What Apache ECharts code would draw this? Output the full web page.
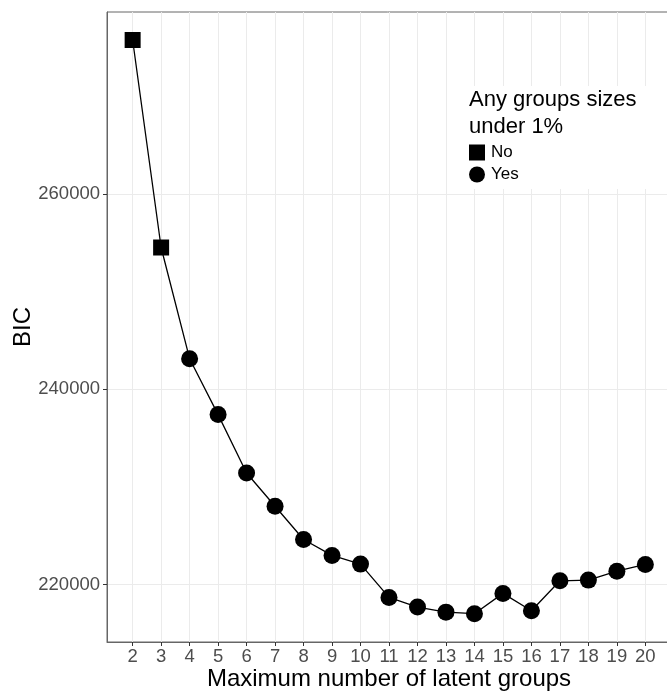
<!DOCTYPE html>
<html lang="en">
<head>
    <meta charset="UTF-8">
    <title>BIC by number of latent groups</title>
    <script src="https://cdn.jsdelivr.net/npm/echarts@6/dist/echarts.min.js"></script>
    <style>
        html, body {
            margin: 0;
            padding: 0;
            background: #fff;
        }

        #main {
            width: 667px;
            height: 691px;
        }
    </style>
</head>
<body>
<div id="main"></div>

<script type="text/javascript">
    // max number of latent groups
    const groups = [2, 3, 4, 5, 6, 7, 8, 9, 10, 11, 12, 13, 14, 15, 16, 17, 18, 19, 20];
    // BIC
    const bic = [275780, 254520, 243130, 237400, 231420, 228010, 224600, 222970, 222080, 218670,
        217680, 217160, 217000, 219080, 217300, 220370, 220440, 221360, 222050];
    // any group sizes under 1%
    const under1 = ['No', 'No', 'Yes', 'Yes', 'Yes', 'Yes', 'Yes', 'Yes', 'Yes', 'Yes',
        'Yes', 'Yes', 'Yes', 'Yes', 'Yes', 'Yes', 'Yes', 'Yes', 'Yes'];
    const yTicks = [220000, 240000, 260000];

    const tickColor = '#4d4d4d';
    const fontFamily = '"Liberation Sans", Arial, Helvetica, sans-serif';

    function pointsFor(flag) {
        let out = [];
        for (let i = 0; i < groups.length; i++) {
            if (under1[i] === flag) out.push([groups[i], bic[i]]);
        }
        return out;
    }

    let chart = echarts.init(document.getElementById('main'));
    let option = {
        animation: false,
        backgroundColor: '#fff',
        textStyle: {fontFamily: fontFamily},
        grid: {
            left: 107,
            right: -4,
            top: 12,
            bottom: 49,
            show: true,
            borderColor: '#666',
            borderWidth: 1,
            outerBoundsMode: 'none'
        },
        title: {
            text: 'Any groups sizes\nunder 1%',
            left: 469,
            top: 86,
            padding: 0,
            z: 10,
            textStyle: {
                fontFamily: fontFamily,
                fontSize: 22,
                fontWeight: 'normal',
                lineHeight: 27,
                color: '#000'
            }
        },
        legend: {
            data: ['No', 'Yes'],
            orient: 'vertical',
            left: 469,
            top: 144,
            padding: 0,
            itemWidth: 16,
            itemHeight: 16,
            itemGap: 5,
            z: 10,
            itemStyle: {opacity: 1},
            textStyle: {fontFamily: fontFamily, fontSize: 17, color: '#000', padding: [0, 0, 0, 1]}
        },
        graphic: [{
            type: 'rect',
            z: 1,
            shape: {x: 457, y: 86, width: 215, height: 103},
            style: {fill: '#fff'}
        }],
        xAxis: {
            type: 'value',
            min: 1.1,
            max: 20.9,
            name: 'Maximum number of latent groups',
            nameLocation: 'middle',
            nameGap: 25,
            nameMoveOverlap: false,
            nameTextStyle: {fontFamily: fontFamily, fontSize: 24, color: '#000'},
            axisLine: {show: true, lineStyle: {color: '#666', width: 1}},
            axisTick: {show: true, length: 4, customValues: groups, lineStyle: {color: '#333'}},
            axisLabel: {
                customValues: groups,
                margin: 5,
                fontSize: 18.5,
                color: tickColor,
                fontFamily: fontFamily
            },
            splitLine: {show: true, lineStyle: {color: '#ebebeb', width: 1}}
        },
        yAxis: {
            type: 'value',
            min: 214100,
            max: 278650,
            name: 'BIC',
            nameLocation: 'middle',
            nameGap: 72,
            nameMoveOverlap: false,
            nameTextStyle: {fontFamily: fontFamily, fontSize: 24, color: '#000'},
            axisLine: {show: true, lineStyle: {color: '#666', width: 1}},
            axisTick: {show: true, length: 4, customValues: yTicks, lineStyle: {color: '#333'}},
            axisLabel: {
                customValues: yTicks,
                margin: 7,
                fontSize: 18.5,
                color: tickColor,
                fontFamily: fontFamily,
                formatter: function (v) {
                    return String(v);
                }
            },
            splitLine: {show: true, lineStyle: {color: '#ebebeb', width: 1}}
        },
        series: [
            {
                name: 'BIC',
                type: 'line',
                data: groups.map((g, i) => [g, bic[i]]),
                showSymbol: false,
                lineStyle: {color: '#000', width: 1.3},
                z: 2
            },
            {
                name: 'No',
                type: 'scatter',
                symbol: 'rect',
                symbolSize: 16,
                itemStyle: {color: '#000', opacity: 1},
                data: pointsFor('No'),
                z: 3
            },
            {
                name: 'Yes',
                type: 'scatter',
                symbol: 'circle',
                symbolSize: 17,
                itemStyle: {color: '#000', opacity: 1},
                data: pointsFor('Yes'),
                z: 3
            }
        ]
    };
    chart.setOption(option);
</script>
</body>
</html>
